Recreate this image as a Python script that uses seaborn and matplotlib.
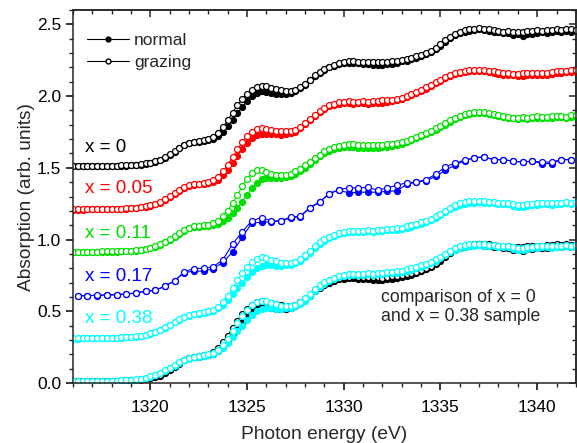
import numpy as np
import pandas as pd
import matplotlib
matplotlib.use("Agg")
import matplotlib.pyplot as plt
from matplotlib.ticker import MultipleLocator
from matplotlib.lines import Line2D
import seaborn as sns

# ---------------- data ----------------
# dense energy grid (eV), 0.25 eV step
energy = np.arange(1316.0, 1342.001, 0.25)
# sparse grid used for x = 0.17
energy_017 = np.arange(1316.25, 1341.76, 0.5)

n0 = [0.010, 0.011, 0.010, 0.012, 0.012, 0.011, 0.013, 0.013,
      0.014, 0.015, 0.015, 0.016, 0.018, 0.020, 0.023, 0.027,
      0.032, 0.040, 0.052, 0.068, 0.088, 0.110, 0.135, 0.157,
      0.172, 0.178, 0.183, 0.188, 0.192, 0.200, 0.222, 0.252,
      0.290, 0.335, 0.380, 0.425, 0.465, 0.500, 0.522, 0.532,
      0.530, 0.523, 0.518, 0.516, 0.515, 0.522, 0.534, 0.555,
      0.580, 0.610, 0.640, 0.664, 0.684, 0.700, 0.712, 0.722,
      0.728, 0.731, 0.734, 0.728, 0.722, 0.725, 0.718, 0.716,
      0.720, 0.726, 0.722, 0.734, 0.742, 0.746, 0.756, 0.768,
      0.780, 0.792, 0.810, 0.828, 0.852, 0.878, 0.905, 0.925,
      0.938, 0.948, 0.952, 0.962, 0.968, 0.958, 0.955, 0.950,
      0.948, 0.940, 0.942, 0.928, 0.934, 0.922, 0.935, 0.936,
      0.938, 0.944, 0.942, 0.948, 0.952, 0.946, 0.956, 0.950,
      0.955]
g0 = [0.012, 0.012, 0.013, 0.012, 0.013, 0.014, 0.014, 0.015,
      0.015, 0.016, 0.017, 0.018, 0.020, 0.022, 0.026, 0.031,
      0.037, 0.046, 0.058, 0.075, 0.095, 0.118, 0.141, 0.161,
      0.175, 0.182, 0.188, 0.193, 0.198, 0.215, 0.245, 0.285,
      0.330, 0.385, 0.435, 0.480, 0.515, 0.545, 0.565, 0.572,
      0.568, 0.558, 0.548, 0.542, 0.538, 0.536, 0.545, 0.562,
      0.586, 0.615, 0.645, 0.670, 0.690, 0.706, 0.720, 0.731,
      0.739, 0.742, 0.745, 0.740, 0.738, 0.741, 0.736, 0.737,
      0.735, 0.740, 0.744, 0.748, 0.752, 0.758, 0.766, 0.776,
      0.788, 0.800, 0.815, 0.835, 0.862, 0.890, 0.915, 0.935,
      0.948, 0.958, 0.965, 0.968, 0.972, 0.970, 0.966, 0.960,
      0.955, 0.950, 0.952, 0.946, 0.948, 0.950, 0.952, 0.955,
      0.958, 0.954, 0.960, 0.962, 0.966, 0.964, 0.968, 0.965,
      0.964]
n05 = [0.008, 0.009, 0.009, 0.010, 0.010, 0.011, 0.011, 0.012,
       0.013, 0.014, 0.015, 0.016, 0.018, 0.021, 0.025, 0.030,
       0.036, 0.045, 0.058, 0.074, 0.094, 0.116, 0.140, 0.160,
       0.174, 0.180, 0.184, 0.188, 0.193, 0.200, 0.218, 0.248,
       0.288, 0.335, 0.385, 0.432, 0.472, 0.505, 0.526, 0.536,
       0.538, 0.535, 0.533, 0.530, 0.534, 0.540, 0.552, 0.575,
       0.602, 0.632, 0.662, 0.690, 0.712, 0.728, 0.738, 0.745,
       0.750, 0.752, 0.748, 0.754, 0.750, 0.746, 0.752, 0.750,
       0.755, 0.760, 0.765, 0.772, 0.782, 0.795, 0.808, 0.822,
       0.836, 0.852, 0.868, 0.888, 0.905, 0.925, 0.942, 0.955,
       0.964, 0.970, 0.974, 0.976, 0.978, 0.972, 0.968, 0.958,
       0.954, 0.948, 0.946, 0.944, 0.942, 0.938, 0.944, 0.946,
       0.948, 0.945, 0.950, 0.955, 0.958, 0.962, 0.966, 0.965,
       0.970]
g05 = [0.010, 0.010, 0.011, 0.011, 0.012, 0.012, 0.013, 0.013,
       0.014, 0.015, 0.016, 0.018, 0.020, 0.023, 0.028, 0.034,
       0.041, 0.051, 0.064, 0.081, 0.101, 0.123, 0.146, 0.165,
       0.178, 0.185, 0.190, 0.194, 0.200, 0.212, 0.238, 0.276,
       0.322, 0.375, 0.428, 0.478, 0.520, 0.552, 0.572, 0.578,
       0.574, 0.566, 0.560, 0.556, 0.554, 0.556, 0.564, 0.584,
       0.610, 0.640, 0.670, 0.698, 0.720, 0.736, 0.748, 0.756,
       0.760, 0.763, 0.760, 0.762, 0.765, 0.762, 0.766, 0.768,
       0.770, 0.772, 0.776, 0.782, 0.790, 0.802, 0.815, 0.830,
       0.845, 0.860, 0.876, 0.895, 0.914, 0.932, 0.948, 0.962,
       0.970, 0.976, 0.980, 0.983, 0.985, 0.982, 0.978, 0.972,
       0.966, 0.962, 0.958, 0.956, 0.955, 0.958, 0.960, 0.962,
       0.962, 0.960, 0.964, 0.968, 0.972, 0.976, 0.978, 0.980,
       0.982]
n11 = [0.012, 0.012, 0.013, 0.013, 0.013, 0.014, 0.014, 0.015,
       0.015, 0.016, 0.017, 0.018, 0.020, 0.023, 0.027, 0.033,
       0.040, 0.050, 0.063, 0.080, 0.100, 0.120, 0.142, 0.162,
       0.178, 0.186, 0.190, 0.192, 0.196, 0.200, 0.210, 0.228,
       0.252, 0.282, 0.320, 0.365, 0.412, 0.458, 0.495, 0.520,
       0.528, 0.530, 0.532, 0.530, 0.534, 0.545, 0.560, 0.578,
       0.600, 0.628, 0.655, 0.680, 0.702, 0.718, 0.728, 0.736,
       0.742, 0.746, 0.744, 0.738, 0.735, 0.740, 0.737, 0.741,
       0.744, 0.748, 0.752, 0.758, 0.768, 0.780, 0.792, 0.806,
       0.820, 0.836, 0.850, 0.866, 0.882, 0.900, 0.920, 0.938,
       0.952, 0.965, 0.975, 0.982, 0.984, 0.980, 0.974, 0.968,
       0.962, 0.955, 0.950, 0.945, 0.940, 0.944, 0.940, 0.946,
       0.950, 0.946, 0.944, 0.950, 0.954, 0.952, 0.948, 0.955,
       0.955]
g11 = [0.014, 0.014, 0.015, 0.015, 0.016, 0.016, 0.017, 0.017,
       0.018, 0.018, 0.019, 0.020, 0.022, 0.025, 0.030, 0.036,
       0.044, 0.055, 0.068, 0.085, 0.105, 0.126, 0.148, 0.168,
       0.184, 0.192, 0.196, 0.198, 0.202, 0.212, 0.232, 0.262,
       0.302, 0.352, 0.410, 0.470, 0.525, 0.565, 0.585, 0.582,
       0.568, 0.556, 0.550, 0.548, 0.552, 0.560, 0.575, 0.595,
       0.618, 0.642, 0.668, 0.692, 0.714, 0.730, 0.742, 0.752,
       0.760, 0.765, 0.768, 0.762, 0.758, 0.762, 0.756, 0.760,
       0.758, 0.764, 0.768, 0.772, 0.780, 0.790, 0.802, 0.815,
       0.830, 0.845, 0.860, 0.876, 0.892, 0.910, 0.930, 0.948,
       0.962, 0.975, 0.985, 0.990, 0.992, 0.988, 0.982, 0.975,
       0.968, 0.962, 0.956, 0.950, 0.948, 0.952, 0.950, 0.955,
       0.958, 0.954, 0.952, 0.958, 0.962, 0.960, 0.956, 0.965,
       0.968]
n17 = [0.006, 0.010, 0.010, 0.014, 0.015, 0.020, 0.028, 0.038,
       0.046, 0.075, 0.112, 0.170, 0.180, 0.180, 0.198, 0.240,
       0.314, 0.415, 0.516, 0.520, 0.525, 0.530, 0.550, 0.560,
       0.620, 0.660, 0.720, 0.745, 0.725, 0.730, 0.730, 0.730,
       0.737, 0.739, 0.785, 0.800, 0.810, 0.840, 0.883, 0.918,
       0.950, 0.970, 0.976, 0.957, 0.957, 0.946, 0.941, 0.946,
       0.930, 0.930, 0.957, 0.957]
g17 = [0.008, 0.010, 0.012, 0.014, 0.016, 0.020, 0.028, 0.040,
       0.046, 0.075, 0.112, 0.175, 0.198, 0.200, 0.210, 0.260,
       0.368, 0.454, 0.531, 0.553, 0.530, 0.530, 0.558, 0.563,
       0.623, 0.663, 0.721, 0.748, 0.760, 0.760, 0.764, 0.744,
       0.760, 0.779, 0.795, 0.800, 0.818, 0.855, 0.906, 0.934,
       0.953, 0.971, 0.976, 0.957, 0.957, 0.946, 0.941, 0.946,
       0.940, 0.940, 0.957, 0.957]
n38 = [0.010, 0.010, 0.011, 0.011, 0.011, 0.012, 0.012, 0.013,
       0.014, 0.015, 0.016, 0.018, 0.020, 0.024, 0.029, 0.036,
       0.044, 0.055, 0.068, 0.084, 0.102, 0.122, 0.142, 0.158,
       0.170, 0.178, 0.184, 0.190, 0.196, 0.205, 0.220, 0.245,
       0.280, 0.318, 0.360, 0.400, 0.440, 0.475, 0.502, 0.518,
       0.522, 0.520, 0.518, 0.518, 0.520, 0.525, 0.535, 0.552,
       0.575, 0.605, 0.638, 0.668, 0.692, 0.712, 0.728, 0.740,
       0.748, 0.752, 0.755, 0.752, 0.756, 0.758, 0.755, 0.760,
       0.762, 0.765, 0.768, 0.770, 0.776, 0.782, 0.790, 0.800,
       0.810, 0.822, 0.836, 0.852, 0.870, 0.892, 0.912, 0.928,
       0.940, 0.948, 0.954, 0.958, 0.960, 0.958, 0.955, 0.952,
       0.950, 0.948, 0.945, 0.936, 0.930, 0.928, 0.935, 0.940,
       0.944, 0.948, 0.948, 0.944, 0.948, 0.950, 0.952, 0.950,
       0.952]
g38 = [0.012, 0.012, 0.012, 0.013, 0.013, 0.014, 0.014, 0.015,
       0.016, 0.017, 0.018, 0.020, 0.022, 0.026, 0.031, 0.038,
       0.047, 0.058, 0.072, 0.088, 0.106, 0.126, 0.146, 0.162,
       0.174, 0.182, 0.188, 0.194, 0.200, 0.212, 0.232, 0.265,
       0.310, 0.360, 0.415, 0.465, 0.510, 0.545, 0.565, 0.575,
       0.572, 0.560, 0.548, 0.540, 0.536, 0.535, 0.545, 0.565,
       0.590, 0.622, 0.652, 0.680, 0.702, 0.720, 0.734, 0.746,
       0.754, 0.758, 0.760, 0.762, 0.760, 0.764, 0.762, 0.766,
       0.768, 0.772, 0.776, 0.778, 0.784, 0.792, 0.800, 0.810,
       0.820, 0.832, 0.846, 0.862, 0.880, 0.902, 0.922, 0.940,
       0.952, 0.960, 0.966, 0.968, 0.970, 0.966, 0.962, 0.960,
       0.956, 0.955, 0.952, 0.945, 0.940, 0.938, 0.945, 0.950,
       0.954, 0.958, 0.956, 0.952, 0.956, 0.958, 0.960, 0.958,
       0.960]

samples = ["x = 0", "x = 0.05", "x = 0.11", "x = 0.17", "x = 0.38"]
colors = ["#000000", "#ff0000", "#00e000", "#0000ff", "#00ffff"]
offsets = [1.5, 1.2, 0.9, 0.6, 0.3]
label_y = [1.645, 1.356, 1.042, 0.745, 0.45]
normal_data = [n0, n05, n11, n17, n38]
grazing_data = [g0, g05, g11, g17, g38]
grids = [energy, energy, energy, energy_017, energy]

comparison_text = "comparison of x = 0\nand x = 0.38 sample"

# ---------------- plot ----------------
sns.set_style("ticks")
plt.rcParams["font.family"] = ["Liberation Sans", "DejaVu Sans"]
plt.rcParams["axes.linewidth"] = 1.1

fig = plt.figure(figsize=(5.77, 4.43), dpi=100)
ax = fig.add_axes([0.1265, 0.1354, 0.8715, 0.8420])

ms = 4.3
lw = 0.8


def draw(e, vals, off, color, filled):
    df = pd.DataFrame({"E": e, "A": np.asarray(vals) + off})
    sns.lineplot(data=df, x="E", y="A", ax=ax, estimator=None, sort=False,
                 color=color, linewidth=lw, marker="o", markersize=ms,
                 markeredgewidth=0.9, markeredgecolor=color,
                 markerfacecolor=(color if filled else "white"),
                 legend=False)


for e, nv, gv, off, c in zip(grids, normal_data, grazing_data, offsets, colors):
    draw(e, nv, off, c, True)
    draw(e, gv, off, c, False)

# comparison of x = 0 and x = 0.38 without offset
draw(energy, n0, 0.0, colors[0], True)
draw(energy, g0, 0.0, colors[0], False)
draw(energy, n38, 0.0, colors[4], True)
draw(energy, g38, 0.0, colors[4], False)

for s, c, yy in zip(samples, colors, label_y):
    ax.text(1316.6, yy, s, color=c, fontsize=13.5, ha="left", va="center")

ax.text(1331.9, 0.53, comparison_text, fontsize=12.7, ha="left", va="center",
        linespacing=1.15)

ax.set_xlim(1316, 1342)
ax.set_ylim(0, 2.6)
ax.xaxis.set_major_locator(MultipleLocator(5))
ax.xaxis.set_minor_locator(MultipleLocator(1))
ax.yaxis.set_major_locator(MultipleLocator(0.5))
ax.yaxis.set_minor_locator(MultipleLocator(0.1))
ax.yaxis.set_major_formatter(matplotlib.ticker.FormatStrFormatter("%.1f"))
ax.tick_params(which="major", direction="out", length=5, width=1.1,
               labelsize=12.5, colors="black")
ax.tick_params(which="minor", direction="out", length=3, width=1.0)
ax.tick_params(axis="x", which="major", pad=7)

secx = ax.secondary_xaxis("top")
secx.xaxis.set_major_locator(MultipleLocator(5))
secx.xaxis.set_minor_locator(MultipleLocator(1))
secx.tick_params(which="major", direction="in", length=5, width=1.1, labeltop=False)
secx.tick_params(which="minor", direction="in", length=3, width=1.0)
secy = ax.secondary_yaxis("right")
secy.yaxis.set_major_locator(MultipleLocator(0.5))
secy.yaxis.set_minor_locator(MultipleLocator(0.1))
secy.tick_params(which="major", direction="in", length=5, width=1.1, labelright=False)
secy.tick_params(which="minor", direction="in", length=3, width=1.0)
for s in ("top", "right"):
    ax.spines[s].set_visible(True)

ax.set_xlabel("Photon energy (eV)", fontsize=13.8, labelpad=8)
ax.set_ylabel("Absorption (arb. units)", fontsize=13.8, labelpad=1)

handles = [
    Line2D([], [], color="black", lw=lw, marker="o", markersize=3.5,
           markerfacecolor="black", markeredgecolor="black"),
    Line2D([], [], color="black", lw=lw, marker="o", markersize=3.5,
           markerfacecolor="white", markeredgecolor="black"),
]
ax.legend(handles, ["normal", "grazing"], loc="upper left",
          bbox_to_anchor=(0.028, 0.938), frameon=False, fontsize=12.5,
          handlelength=2.4, handletextpad=0.3, labelspacing=0.38,
          borderaxespad=0, borderpad=0)

fig.savefig("out.png", dpi=100)
